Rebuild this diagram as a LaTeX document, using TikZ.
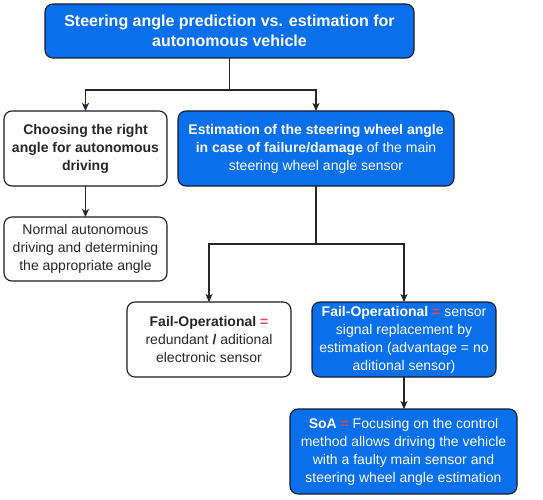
\documentclass[tikz,border=0pt]{standalone}
\usepackage{fontspec}
\setmainfont{Liberation Sans}
\usetikzlibrary{arrows.meta}
\definecolor{boxblue}{HTML}{0A6FEB}
\definecolor{eqred}{HTML}{E5475C}
\definecolor{edge}{HTML}{1A1A2A}
\begin{document}
\begin{tikzpicture}[x=1pt,y=-1pt,
  base/.style={draw=edge,line width=1.1pt,rounded corners=8pt,inner sep=0pt,outer sep=0pt,align=center,
    font=\fontsize{14}{18}\selectfont},
  bluebox/.style={base,fill=boxblue,text=white},
  whitebox/.style={base,fill=white,text=black!85},
  arr/.style={line width=1.1pt,draw=black!85,-{Stealth[length=8pt,width=7pt,inset=2pt]}},
  ln/.style={line width=1.1pt,draw=black!85}]
\useasboundingbox (0,0) rectangle (543,500);
\newcommand{\eqr}{{\color{eqred}\textbf{=}}}
\node[bluebox,minimum width=369pt,minimum height=54pt,font=\fontsize{16}{20}\selectfont\bfseries] (top) at (229.5,31)
  {Steering angle prediction vs. estimation for\\autonomous vehicle};
\node[whitebox,minimum width=163pt,minimum height=75pt] (choose) at (85.5,148.5)
  {\textbf{Choosing the right}\\\textbf{angle for autonomous}\\\textbf{driving}};
\node[bluebox,minimum width=276pt,minimum height=75pt] (est) at (316,148.5)
  {\textbf{Estimation of the steering wheel angle}\\\textbf{in case of failure/damage} of the main\\steering wheel angle sensor};
\node[whitebox,minimum width=163pt,minimum height=64pt] (normal) at (85.5,249)
  {Normal autonomous\\driving and determining\\the appropriate angle};
\node[whitebox,minimum width=164pt,minimum height=75pt] (fl) at (209,339.5)
  {\textbf{Fail-Operational} \eqr\\redundant \textbf{/} aditional\\electronic sensor};
\node[bluebox,minimum width=184pt,minimum height=75pt] (fr) at (404,339.5)
  {\textbf{Fail-Operational} \eqr{} sensor\\signal replacement by\\estimation (advantage = no\\aditional sensor)};
\node[bluebox,minimum width=227pt,minimum height=85pt] (soa) at (403.5,451.5)
  {\textbf{SoA} \eqr{} Focusing on the control\\method allows driving the vehicle\\with a faulty main sensor and\\steering wheel angle estimation};
\coordinate (j1) at (229.5,90);
\coordinate (j2) at (316,244);
\draw[ln] (top.south) -- (j1);
\draw[arr] (j1) -| (choose.north);
\draw[arr] (j1) -| (est.north);
\draw[arr] (choose.south) -- (normal.north);
\draw[ln] (est.south) -- (j2);
\draw[arr] (j2) -| (fl.north);
\draw[arr] (j2) -| (fr.north);
\draw[arr] (fr.south) -- (fr.south |- soa.north);
\end{tikzpicture}
\end{document}
